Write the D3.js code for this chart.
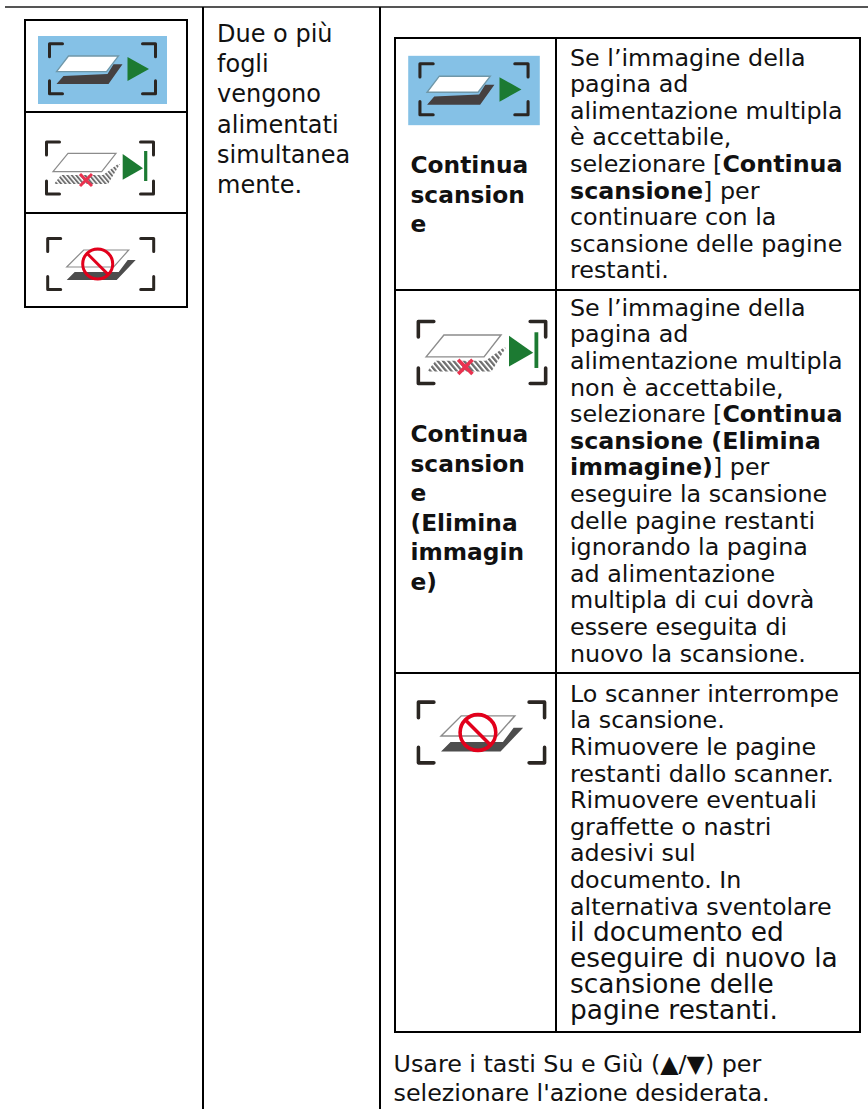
<!DOCTYPE html>
<html>
<head>
<meta charset="utf-8">
<script src="https://cdn.jsdelivr.net/npm/d3@7"></script>
<style>
  html, body { margin: 0; padding: 0; background: #fff; }
  svg { display: block; }
  text { font-family: "DejaVu Sans", sans-serif; fill: #111; }
</style>
</head>
<body>
<div id="chart"></div>
<script>
// Testi della tabella, riga per riga ("*" apre e chiude il grassetto)
const causeLines = ["Due o più", "fogli", "vengono", "alimentati", "simultanea", "mente."];
const actionLabel1 = ["Continua", "scansion", "e"];
const actionLabel2 = ["Continua", "scansion", "e", "(Elimina", "immagin", "e)"];
const actionText1 = ["Se l’immagine della", "pagina ad", "alimentazione multipla", "è accettabile,", "selezionare [*Continua*", "*scansione*] per", "continuare con la", "scansione delle pagine", "restanti."];
const actionText2 = ["Se l’immagine della", "pagina ad", "alimentazione multipla", "non è accettabile,", "selezionare [*Continua*", "*scansione (Elimina*", "*immagine)*] per", "eseguire la scansione", "delle pagine restanti", "ignorando la pagina", "ad alimentazione", "multipla di cui dovrà", "essere eseguita di", "nuovo la scansione."];
const actionText3 = ["Lo scanner interrompe", "la scansione.", "Rimuovere le pagine", "restanti dallo scanner.", "Rimuovere eventuali", "graffette o nastri", "adesivi sul", "documento. In", "alternativa sventolare"];
const actionText3Big = ["il documento ed", "eseguire di nuovo la", "scansione delle", "pagine restanti."];
const footerLines = ["Usare i tasti Su e Giù (▲/▼) per", "selezionare l'azione desiderata."];

const width = 868;
const height = 1109;
const fontSize = 23.8;
const lineStep = 26.6;

const svg = d3.select("#chart").append("svg")
  .attr("width", width)
  .attr("height", height);

// Sfocatura leggera: le icone originali sono immagini raster
const defs = svg.append("defs");
defs.append("filter").attr("id", "soft")
  .append("feGaussianBlur").attr("stdDeviation", 0.45);
const hatch = defs.append("pattern").attr("id", "hatch")
  .attr("width", 3.4).attr("height", 3.4)
  .attr("patternUnits", "userSpaceOnUse")
  .attr("patternTransform", "rotate(-40)");
hatch.append("rect").attr("width", 3.4).attr("height", 3.4).attr("fill", "#fff");
hatch.append("rect").attr("width", 1.9).attr("height", 3.4).attr("fill", "#6e6e6e");

// Scrive un blocco di righe, gestendo il grassetto con "*"
function drawLines(lines, x, y0, opts = {}) {
  const step = opts.step || lineStep;
  const size = opts.size || fontSize;
  lines.forEach((line, i) => {
    let bold = !!opts.bold;
    const t = svg.append("text")
      .attr("x", x)
      .attr("y", y0 + i * step)
      .style("font-size", size + "px");
    line.split("*").forEach((part, j) => {
      if (j > 0) bold = !bold;
      if (part) t.append("tspan").style("font-weight", bold ? "bold" : "normal").text(part);
    });
  });
}

function drawRule(x1, y1, x2, y2, color = "#000", w = 2) {
  svg.append("line")
    .attr("x1", x1).attr("y1", y1).attr("x2", x2).attr("y2", y2)
    .attr("stroke", color).attr("stroke-width", w);
}

// Angoli di inquadratura comuni alle tre icone
function brackets(g, hw, hh, dy = 0) {
  const arm = 13;
  const corners = [[-1, -1], [1, -1], [-1, 1], [1, 1]];
  corners.forEach(([sx, sy]) => {
    g.append("path")
      .attr("d", `M${sx * hw},${dy + sy * (hh - arm)}V${dy + sy * hh}H${sx * (hw - arm)}`)
      .attr("fill", "none")
      .attr("stroke", "#2b2523")
      .attr("stroke-width", 3)
      .attr("stroke-linejoin", "round")
      .attr("stroke-linecap", "round");
  });
}

function poly(g, pts, fill, stroke, w = 1) {
  g.append("polygon")
    .attr("points", pts.map(p => p.join(",")).join(" "))
    .attr("fill", fill)
    .attr("stroke", stroke || "none")
    .attr("stroke-width", w);
}

function iconGroup(cx, cy, s) {
  return svg.append("g")
    .attr("transform", `translate(${cx},${cy}) scale(${s})`)
    .attr("filter", "url(#soft)");
}

function iconContinue(cx, cy, s) {
  const g = iconGroup(cx, cy, s);
  g.append("rect").attr("x", -64.5).attr("y", -34).attr("width", 129).attr("height", 68).attr("fill", "#85c1e6");
  brackets(g, 53, 25, -1.2);
  poly(g, [[-46, 14], [-39, 6], [5, 4], [11, -5.7], [20, -5.7], [6, 14]], "#443f40");
  poly(g, [[-46, 1.7], [-34, -14], [16, -14], [4, 1.7]], "#fff", "#6f97a8", 1.3);
  poly(g, [[25, -13], [46.5, -1], [25, 11]], "#1a7a30");
}

function iconDiscard(cx, cy, s) {
  const g = iconGroup(cx, cy, s);
  brackets(g, 53.5, 26);
  poly(g, [[-46, 16], [-39, 7], [3, 7], [18, -4], [20, -4], [8, 16]], "url(#hatch)");
  poly(g, [[-47, 3.7], [-32, -14.7], [16, -14.7], [1.7, 3.7]], "#fff", "#8c8c8c", 1.2);
  g.append("path")
    .attr("d", "M-20,6L-8,18M-8,6L-20,18")
    .attr("stroke", "#ea3350")
    .attr("stroke-width", 3);
  poly(g, [[22.7, -14], [43, 0.3], [22.7, 11.7]], "#1a7a30");
  g.append("line").attr("x1", 45.7).attr("y1", -17).attr("x2", 45.7).attr("y2", 13)
    .attr("stroke", "#1a7a30").attr("stroke-width", 3.2);
}

function iconStop(cx, cy, s) {
  const g = iconGroup(cx, cy, s);
  brackets(g, 53, 25.5);
  poly(g, [[-34, 16], [-26, 8], [18, 8], [27, -4], [35, -4], [16, 16]], "#4d4d4d");
  poly(g, [[-34, 3], [-17, -14], [28, -14], [13, 3]], "#fff", "#8c8c8c", 1.2);
  g.append("circle").attr("cx", -3).attr("cy", 0).attr("r", 15)
    .attr("fill", "none").attr("stroke", "#e2001a").attr("stroke-width", 3);
  g.append("line").attr("x1", -13.5).attr("y1", -10.5).attr("x2", 7.5).attr("y2", 10.5)
    .attr("stroke", "#e2001a").attr("stroke-width", 3);
}

// Linea superiore e colonne esterne
drawRule(5, 7, width, 7, "#555", 2);
drawRule(203, 7, 203, height);
drawRule(380, 7, 380, height);

// Tabella di sinistra
svg.append("rect").attr("x", 25).attr("y", 20).attr("width", 162).attr("height", 287)
  .attr("fill", "none").attr("stroke", "#000").attr("stroke-width", 2);
drawRule(25, 112, 187, 112);
drawRule(25, 213, 187, 213);
iconContinue(102.5, 70, 1);
iconDiscard(100, 168, 1);
iconStop(100.7, 264, 1);

// Tabella di destra
svg.append("rect").attr("x", 395).attr("y", 38).attr("width", 465).attr("height", 994)
  .attr("fill", "none").attr("stroke", "#000").attr("stroke-width", 2);
drawRule(556, 38, 556, 1032);
drawRule(395, 290, 860, 290);
drawRule(395, 673, 860, 673);
iconContinue(474, 90.5, 1.02);
iconDiscard(482, 352.5, 1.19);
iconStop(481.5, 732.5, 1.19);

drawLines(causeLines, 217, 42, { size: 24, step: 30.2 });
drawLines(actionLabel1, 410.5, 173, { bold: true, step: 29.5, size: 23.3 });
drawLines(actionLabel2, 410.5, 442.3, { bold: true, step: 29.5, size: 23.3 });
drawLines(actionText1, 570, 65.5);
drawLines(actionText2, 570, 315.7);
drawLines(actionText3, 570, 701.7);
drawLines(actionText3Big, 570, 941, { size: 26.4, step: 26 });
drawLines(footerLines, 393.5, 1072, { step: 28.5 });
</script>
</body>
</html>
